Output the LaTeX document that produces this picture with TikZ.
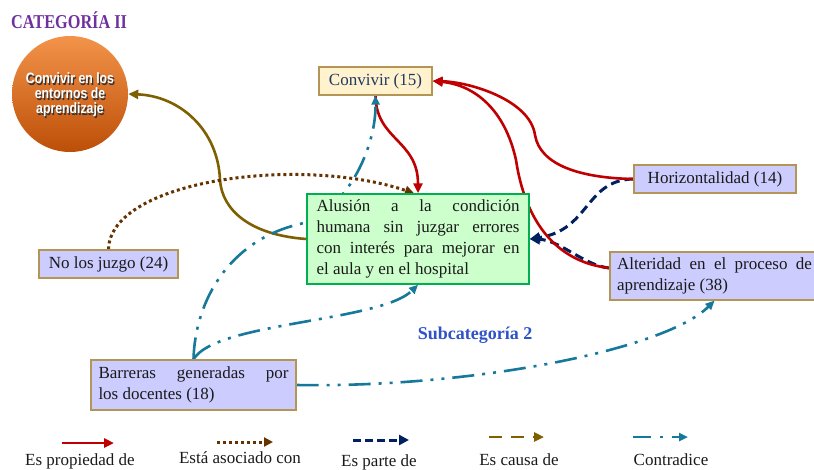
\documentclass[tikz,border=0pt]{standalone}
\usepackage{fontspec}
\setmainfont{Liberation Serif}
\newfontfamily\titlefont[FakeStretch=0.83]{Liberation Serif}
\newfontfamily\circfont[FakeStretch=0.82]{Liberation Sans}
\usetikzlibrary{arrows.meta}

\definecolor{titlepurple}{HTML}{7030A0}
\definecolor{subblue}{HTML}{2F52C6}
\definecolor{convfill}{HTML}{FFF2CC}
\definecolor{tanborder}{HTML}{B39556}
\definecolor{alufill}{HTML}{CCFFCC}
\definecolor{aluborder}{HTML}{00B050}
\definecolor{lavfill}{HTML}{CCCCFF}
\definecolor{navytext}{HTML}{1F3864}
\definecolor{bodytext}{HTML}{1A1A1A}
\definecolor{propred}{HTML}{C00000}
\definecolor{assocbrown}{HTML}{663300}
\definecolor{partnavy}{HTML}{002060}
\definecolor{causeolive}{HTML}{7F6000}
\definecolor{contrateal}{HTML}{16799B}
\definecolor{orangetop}{HTML}{F3934A}
\definecolor{orangemid}{HTML}{E66D14}
\definecolor{orangebot}{HTML}{BD4F08}

\newcommand\loosepar{\tolerance=10000\relax\hbadness=10000\relax}

\pgfdeclarelayer{bg}
\pgfsetlayers{bg,main}

\tikzset{
  boxtext/.style={font=\fontsize{17}{21}\selectfont, text=bodytext},
  codebox/.style={boxtext, draw=tanborder, line width=1.2pt, fill=lavfill,
    minimum height=28pt, inner sep=0pt},
  parabox/.style={codebox, align=justify,
    font=\fontsize{17}{21}\selectfont\loosepar},
  legendtext/.style={font=\fontsize{17}{20}\selectfont, text=bodytext, anchor=base},
  propline/.style={draw=propred, line width=2.6pt,
    -{Triangle[length=10pt,width=9pt]}},
  assocline/.style={draw=assocbrown, line width=3pt, dash pattern=on 3pt off 3pt,
    -{Triangle[length=9pt,width=9pt]}},
  partline/.style={draw=partnavy, line width=3pt, dash pattern=on 9pt off 5pt,
    -{Triangle[length=10pt,width=10pt]}},
  causeline/.style={draw=causeolive, line width=2.6pt,
    -{Triangle[length=10pt,width=9pt]}},
  contraline/.style={draw=contrateal, line width=2.6pt,
    dash pattern=on 22pt off 8pt on 3pt off 8pt on 3pt off 8pt,
    -{Triangle[length=9pt,width=8pt]}},
}

\begin{document}
\begin{tikzpicture}[x=1pt,y=-1pt]
\useasboundingbox (0,0) rectangle (814,469);

% title
\node[anchor=base west, inner sep=0pt, text=titlepurple,
  font=\titlefont\bfseries\fontsize{19.6}{22}\selectfont] (title) at (11,28) {CATEGORÍA II};

% category circle
\node[circle, minimum size=116pt, inner sep=0pt,
  top color=orangetop, middle color=orangemid, bottom color=orangebot] (cat) at (70,94) {};
\node[align=center, text=black!80, font=\circfont\bfseries\fontsize{15}{15}\selectfont]
  (catshadow) at (71.2,96.2) {Convivir en los\\entornos de\\aprendizaje};
\node[align=center, text=white, font=\circfont\bfseries\fontsize{15}{15}\selectfont]
  (cattext) at (70,95) {Convivir en los\\entornos de\\aprendizaje};

% code boxes
\node[codebox, fill=convfill, text=navytext, minimum width=113pt] (conv) at (375.5,81) {Convivir (15)};
\node[parabox, draw=aluborder, line width=1.5pt, fill=alufill, text width=203pt,
  inner xsep=9.5pt, minimum height=90pt] (alu) at (418,239)
  {Alusión a la condición\linebreak humana sin juzgar errores\linebreak con interés para mejorar en\linebreak el aula y en el hospital};
\node[codebox, minimum width=162pt] (hor) at (715,179) {Horizontalidad (14)};
\node[parabox, text width=195pt, inner xsep=7pt, minimum height=48pt] (alt) at (714.5,276)
  {Alteridad en el proceso de\linebreak aprendizaje (38)};
\node[codebox, minimum width=139pt] (nolos) at (108.5,264) {No los juzgo (24)};
\node[parabox, text width=190pt, inner xsep=7.5pt, minimum height=50pt] (bar) at (193.5,385)
  {Barreras generadas por\linebreak los docentes (18)};

% subcategory label
\node[anchor=base, text=subblue, font=\bfseries\fontsize{18}{20}\selectfont] (sub) at (475,339) {Subcategoría 2};

\coordinate (altw) at ([yshift=8pt]alt.west);

% relations, kept beneath the boxes
\begin{pgfonlayer}{bg}
\fill[white] (0,0) rectangle (814,469);
\draw[causeline] (alu.west) .. controls (250,235) and (222,210) .. (220,180)
  .. controls (218,130) and (180,96) .. (cat.east);
\draw[assocline] (nolos.north) .. controls (110,180) and (300,155) .. ([xshift=-4pt]alu.north);
\draw[partline] (hor.west) .. controls (585,180) and (590,230) .. (alu.east);
\draw[partline] (altw) .. controls (585,266) and (560,240) .. (alu.east);
\draw[propline] (conv.south) .. controls (376,140) and (418,140) .. (alu.north);
\draw[propline] (hor.west) .. controls (580,178) and (540,165) .. (535,135)
  .. controls (530,100) and (470,82) .. (conv.east);
\draw[propline] (altw) .. controls (555,262) and (525,220) .. (516,160)
  .. controls (505,110) and (475,85) .. (conv.east);
\draw[contraline] (bar.north) .. controls (195,300) and (230,240) .. (300,224)
  .. controls (345,212) and (376,150) .. (conv.south);
\draw[contraline] (bar.north) .. controls (215,322) and (380,322) .. (alu.south);
\draw[contraline] (bar.east) .. controls (470,388) and (665,350) .. (alt.south);
\end{pgfonlayer}

% legend
\coordinate (lg1a) at (62,443);  \coordinate (lg1b) at (114,443);
\coordinate (lg2a) at (217,442); \coordinate (lg2b) at (273,442);
\coordinate (lg3a) at (353,440); \coordinate (lg3b) at (409,440);
\coordinate (lg4a) at (489,437); \coordinate (lg4b) at (544,437);
\coordinate (lg5a) at (633,437); \coordinate (lg5b) at (688,437);
\draw[propline] (lg1a) -- (lg1b);
\draw[assocline] (lg2a) -- (lg2b);
\draw[partline, dash pattern=on 8pt off 4pt] (lg3a) -- (lg3b);
\draw[causeline, dash pattern=on 13pt off 9pt] (lg4a) -- (lg4b);
\draw[contraline, dash pattern=on 18pt off 9pt on 3pt off 9pt] (lg5a) -- (lg5b);
\node[legendtext] (lt1) at (80,465) {Es propiedad de};
\node[legendtext] (lt2) at (240,463) {Está asociado con};
\node[legendtext] (lt3) at (379,466) {Es parte de};
\node[legendtext] (lt4) at (519,465) {Es causa de};
\node[legendtext] (lt5) at (671,465) {Contradice};
\end{tikzpicture}
\end{document}
